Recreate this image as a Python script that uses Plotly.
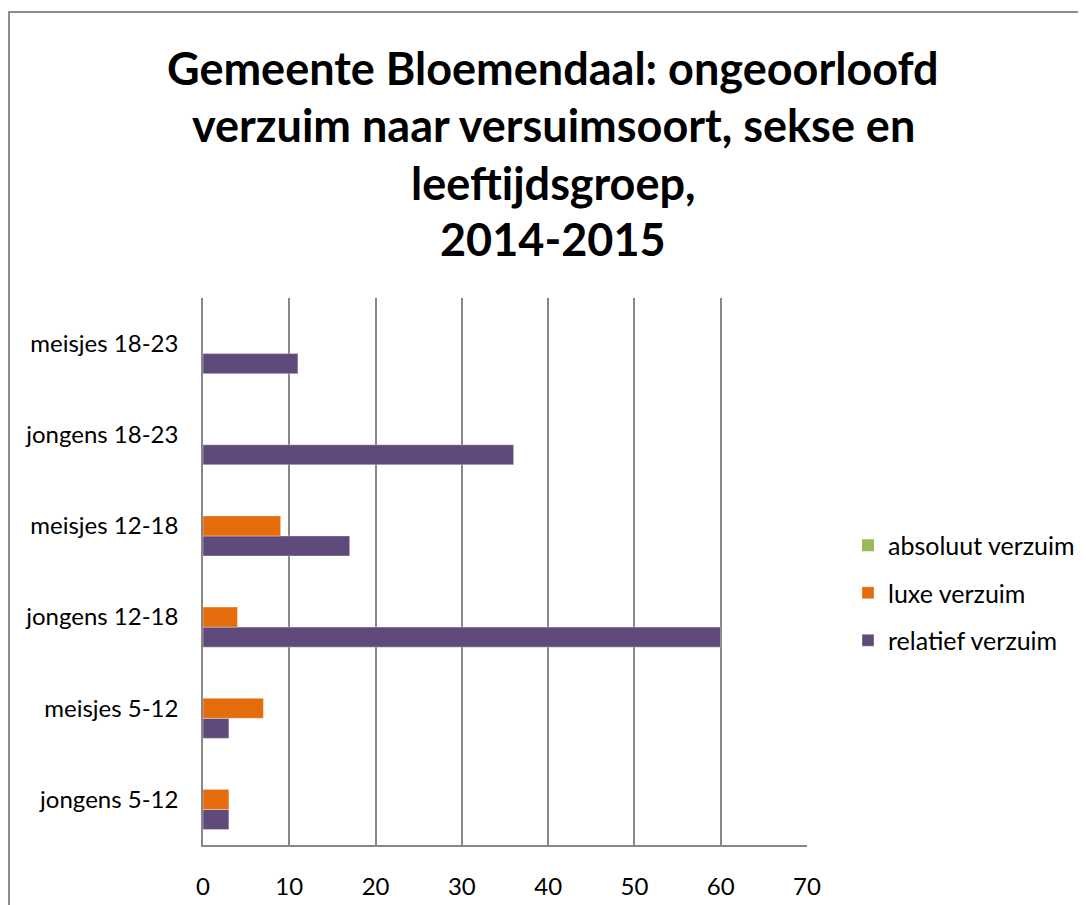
import plotly.graph_objects as go

categories = ["jongens 5-12", "meisjes 5-12", "jongens 12-18", "meisjes 12-18",
              "jongens 18-23", "meisjes 18-23"]
absoluut = [0, 0, 0, 0, 0, 0]
luxe = [3, 7, 4, 9, 0, 0]
relatief = [3, 3, 60, 17, 36, 11]
x_ticks = [0, 10, 20, 30, 40, 50, 60, 70]
title_lines = ["Gemeente Bloemendaal: ongeoorloofd",
               "verzuim naar versuimsoort, sekse en",
               "leeftijdsgroep,",
               "2014-2015"]

OFF = 8  # browser body margin
W, H = 1086 - OFF, 905 - OFF
L, R, T, B = 203 - OFF, 807 - OFF, 298 - OFF, 845 - OFF
pw, ph = R - L, B - T

def px(x):  # page pixel -> paper x
    return (x - OFF - L) / pw

def py(y):  # page pixel -> paper y
    return 1 + (T - (y - OFF)) / ph

FONT = "Lato"
fig = go.Figure()
fig.add_trace(go.Bar(y=categories, x=relatief, orientation="h", name="relatief verzuim",
                     marker=dict(color="#604A7B", line=dict(color="rgba(255,255,255,0.35)", width=1)),
                     legendrank=3, legendgroup="c"))
fig.add_trace(go.Bar(y=categories, x=luxe, orientation="h", name="luxe verzuim",
                     marker=dict(color="#E46C0A", line=dict(color="rgba(255,255,255,0.35)", width=1)),
                     legendrank=2, legendgroup="b"))
fig.add_trace(go.Bar(y=categories, x=absoluut, orientation="h", name="absoluut verzuim",
                     marker=dict(color="#9BBB59", line=dict(width=0)),
                     legendrank=1, legendgroup="a"))

title_y = [68, 125, 183, 239]
annotations = []
for txt, yy in zip(title_lines, title_y):
    annotations.append(dict(text=f"<b>{txt}</b>", x=px(553), y=py(yy), xref="paper", yref="paper",
                            xanchor="center", yanchor="middle", showarrow=False,
                            font=dict(family=FONT, size=45, color="#000000")))

fig.update_layout(
    width=W, height=H,
    margin=dict(l=L, r=W - R, t=T, b=H - B, pad=0, autoexpand=False),
    paper_bgcolor="white", plot_bgcolor="white",
    barmode="group", bargap=0.34, bargroupgap=0,
    font=dict(family=FONT, size=24, color="#000000"),
    showlegend=True,
    legend=dict(x=px(848), y=py(593), xanchor="left", yanchor="middle",
                traceorder="grouped", tracegroupgap=12,
                font=dict(family=FONT, size=25, color="#000000"),
                itemwidth=30, bgcolor="rgba(0,0,0,0)"),
    xaxis=dict(range=[0, 70], tickvals=x_ticks, showgrid=True, gridcolor="#878787", gridwidth=1.5,
               showline=True, linecolor="#878787", linewidth=1.5, zeroline=False, automargin=False,
               ticks="", ticklabelstandoff=19, tickfont=dict(size=24, family=FONT)),
    yaxis=dict(categoryorder="array", categoryarray=categories, showgrid=False,
               showline=True, linecolor="#878787", linewidth=1.5, zeroline=False, automargin=False,
               ticks="", ticklabelstandoff=18, tickfont=dict(size=24, family=FONT)),
    annotations=annotations,
    shapes=[dict(type="rect", xref="paper", yref="paper",
                 x0=px(9), y0=py(930), x1=px(1110), y1=py(12),
                 line=dict(color="#8C8C8C", width=2), fillcolor="rgba(0,0,0,0)", layer="below")],
)

fig.write_html("out.html")
